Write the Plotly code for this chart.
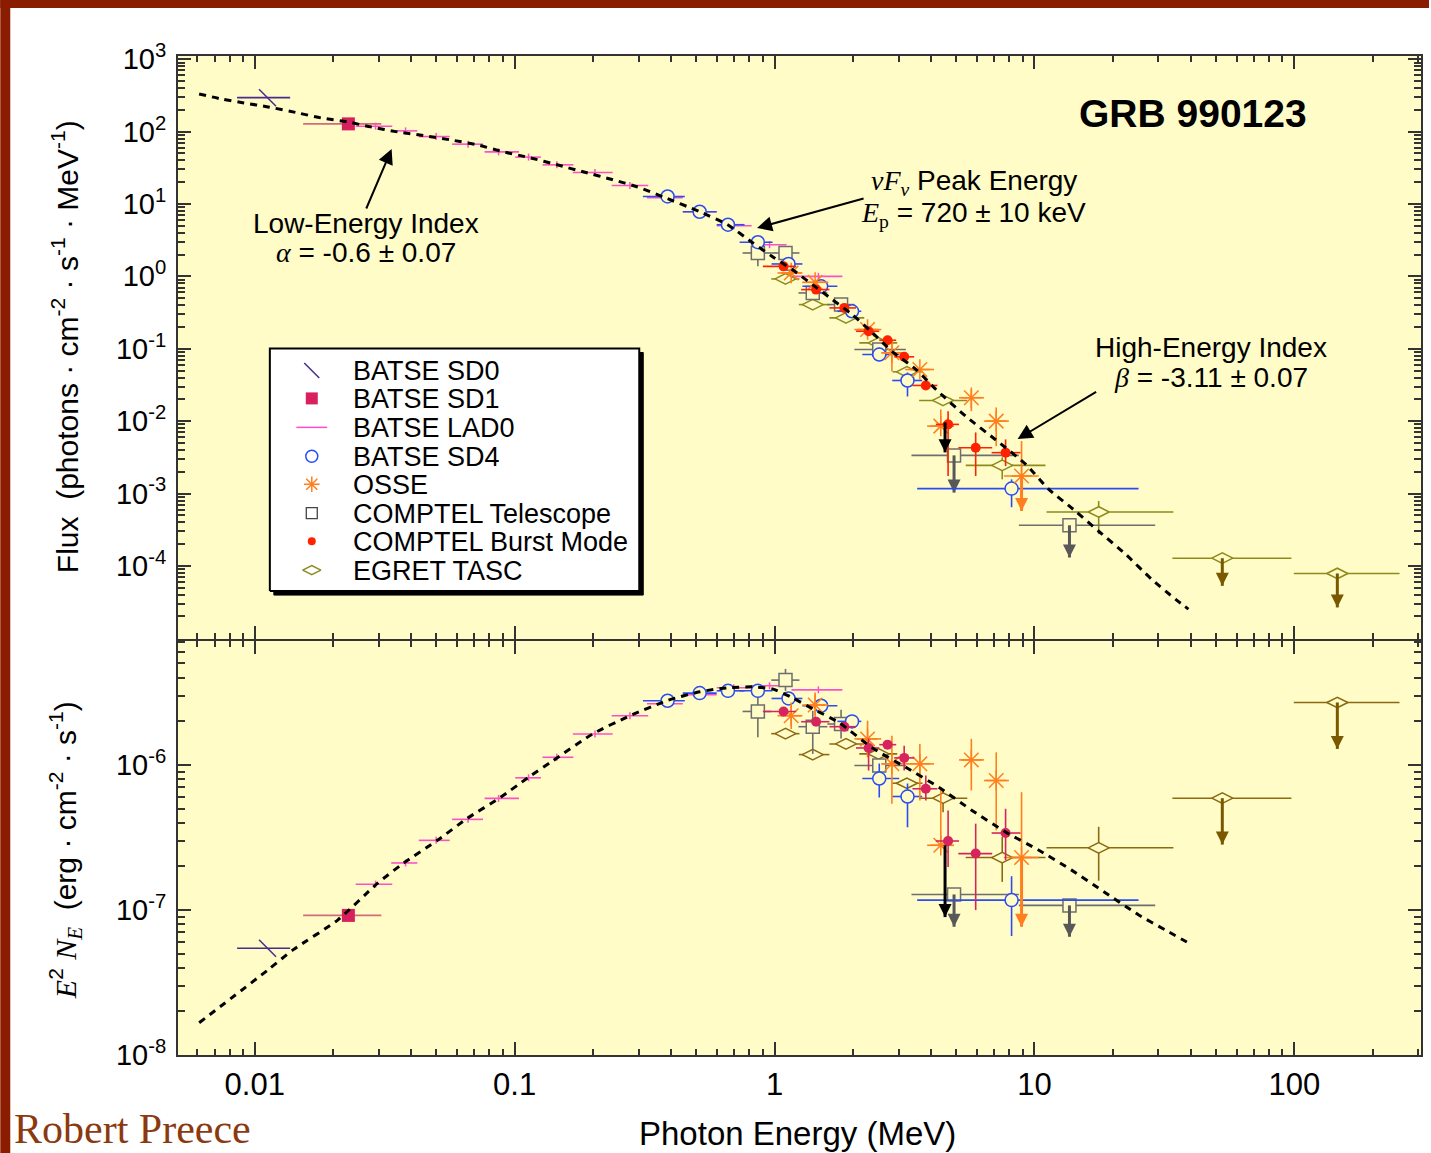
import math
import plotly.graph_objects as go

# ---------------- values ----------------
# Dashed model curve (upper panel): photon energy (MeV) / flux N_E (photons cm^-2 s^-1 MeV^-1)
MODEL_TOP_E = [0.006108, 0.00742, 0.00909, 0.01124, 0.01464, 0.01795, 0.02278, 0.02792, 0.03544,
               0.04459, 0.0566, 0.07187, 0.09044, 0.1148, 0.1457, 0.1834, 0.2389, 0.2954, 0.3717,
               0.5155, 0.66, 0.8233, 0.9825, 1.1724, 1.3988, 1.6696, 1.992, 2.377, 2.837, 3.507,
               4.183, 5.455, 7.302, 9.268, 11.36, 14.42, 17.67, 22.43, 28.22, 34.88, 39.13]
MODEL_TOP_N = [331, 282.5, 248.8, 219.1, 181.1, 154.5, 136.1, 116.1, 99.05, 88.0, 76.8, 65.56,
               52.48, 43.37, 34.73, 27.8, 21.6, 17.3, 12.57, 7.805, 5.166, 2.916, 1.869, 1.237,
               0.7685, 0.4772, 0.2962, 0.1673, 0.0915, 0.0516, 0.02736, 0.0116, 5.085e-3,
               2.528e-3, 1.143e-3, 5.68e-4, 3.01e-4, 1.45e-4, 6.56e-5, 3.47e-5, 2.53e-5]
# Dashed model curve (lower panel): E^2 N_E (erg cm^-2 s^-1)
MODEL_BOT_E = [0.00611, 0.01124, 0.01402, 0.02085, 0.02971, 0.03737, 0.05047, 0.06577, 0.0881,
               0.1128, 0.1406, 0.2003, 0.2778, 0.3853, 0.5154, 0.66, 0.823, 0.982, 1.172, 1.399,
               1.775, 2.376, 3.21, 4.30, 5.75, 7.77, 10.4, 13.9, 18.8, 25.2, 31.9, 39.8]
MODEL_BOT_F = [1.667e-8, 3.855e-8, 5.30e-8, 8.51e-8, 1.53e-7, 2.10e-7, 3.02e-7, 4.28e-7, 5.96e-7,
               8.18e-7, 1.07e-6, 1.64e-6, 2.18e-6, 2.77e-6, 3.19e-6, 3.40e-6, 3.45e-6, 3.34e-6,
               2.90e-6, 2.44e-6, 1.95e-6, 1.31e-6, 9.58e-7, 6.98e-7, 4.85e-7, 3.43e-7, 2.58e-7,
               1.88e-7, 1.31e-7, 9.22e-8, 7.27e-8, 5.82e-8]

# BATSE SD0
SD0_E, SD0_ELO, SD0_EHI = [0.0112], [0.00855], [0.01368]
SD0_N, SD0_F = [294], [5.44e-8]
# BATSE SD1
SD1_E, SD1_ELO, SD1_EHI = [0.02292], [0.01535], [0.03069]
SD1_N, SD1_F = [127.7], [9.16e-8]
# BATSE LAD0
LAD0_E = [0.02917, 0.03804, 0.04989, 0.06617, 0.08673, 0.1131, 0.1453, 0.2038, 0.2777, 0.3784,
          0.5155, 0.6962, 0.9568, 1.475]
LAD0_ELO = [0.02445, 0.03351, 0.04277, 0.05745, 0.07663, 0.1005, 0.128, 0.1674, 0.2362, 0.3228,
            0.4436, 0.599, 0.816, 1.162]
LAD0_EHI = [0.03381, 0.04221, 0.05626, 0.07556, 0.1039, 0.1262, 0.1683, 0.2383, 0.3265, 0.4436,
            0.5989, 0.8164, 1.112, 1.824]
LAD0_N = [118.7, 102.3, 85.3, 67.0, 52.5, 44.4, 34.7, 27.2, 18.0, 12.18, 7.80, 5.00, 2.736, 1.0]
LAD0_F = [1.504e-7, 2.107e-7, 3.017e-7, 4.21e-7, 5.87e-7, 8.14e-7, 1.128e-6, 1.633e-6, 2.182e-6,
          2.637e-6, 3.042e-6, 3.40e-6, 3.51e-6, 3.29e-6]
# BATSE SD4
SD4_E = [0.3876, 0.5151, 0.6618, 0.8626, 1.132, 1.511, 1.987, 2.529, 3.248, 8.168]
SD4_ELO = [0.3115, 0.4436, 0.5989, 0.7338, 0.9739, 1.28, 1.745, 2.176, 2.837, 3.539]
SD4_EHI = [0.4516, 0.5989, 0.767, 0.9825, 1.28, 1.745, 2.157, 3.018, 3.699, 25.16]
SD4_N = [12.69, 7.805, 5.166, 2.963, 1.483, 0.728, 0.329, 0.0832, 0.0364, 1.168e-3]
SD4_NLO = [None, None, None, None, None, None, None, 0.0672, 0.0219, 6.46e-4]
SD4_NHI = [None, None, None, None, None, None, None, 0.1039, 0.047, 1.57e-3]
SD4_F = [2.767e-6, 3.125e-6, 3.24e-6, 3.24e-6, 2.869e-6, 2.556e-6, 1.994e-6, 8.05e-7, 6.05e-7, 1.168e-7]
SD4_FLO = [None, None, None, None, None, None, None, 5.96e-7, 3.71e-7, 6.6e-8]
SD4_FHI = [None, None, None, None, None, None, None, 1.021e-6, 7.44e-7, 1.707e-7]
# OSSE
OSSE_E = [1.159, 1.433, 2.28, 2.829, 3.624, 4.362, 5.718, 7.129, 8.923]
OSSE_ELO = [1.027, 1.277, 2.028, 2.574, 3.183, 3.865, 5.128, 6.395, 7.63]
OSSE_EHI = [1.28, 1.611, 2.574, 3.154, 4.111, 4.906, 6.395, 7.975, 10.39]
OSSE_N = [1.114, 0.8264, 0.184, 0.0878, 0.0516, 8.53e-3, 0.02103, 0.01, 1.743e-3]
OSSE_NLO = [None, None, None, 0.049, None, None, 0.01374, 4.52e-3, None]
OSSE_NHI = [None, None, None, 0.1269, None, 0.0145, 0.0274, 0.01545, 5.3e-3]
OSSE_NUL = [None, None, None, None, None, None, None, None, 5.74e-4]
OSSE_F = [2.182e-6, 2.584e-6, 1.51e-6, 1.016e-6, 1.016e-6, 2.789e-7, 1.082e-6, 7.8e-7, 2.295e-7]
OSSE_FLO = [1.768e-6, 2.071e-6, 1.128e-6, 5.4e-7, 5.68e-7, None, 6.66e-7, 3.54e-7, None]
OSSE_FHI = [2.692e-6, 3.155e-6, 2.016e-6, 1.59e-6, 1.394e-6, 7.01e-7, 1.51e-6, 1.22e-6, 6.48e-7]
OSSE_FUL = [None, None, None, None, None, None, None, None, 7.65e-8]
# COMPTEL Telescope
CTEL_E = [0.8626, 1.102, 1.403, 1.803, 2.529, 4.906, 13.64]
CTEL_ELO = [0.7536, 0.9713, 1.236, 1.597, 2.028, 3.365, 8.712]
CTEL_EHI = [0.9713, 1.247, 1.597, 2.028, 3.202, 8.712, 29.16]
CTEL_N = [2.103, 2.103, 0.590, 0.407, 0.0975, 3.363e-3, 3.64e-4]
CTEL_NLO = [1.374, None, None, None, None, None, None]
CTEL_NHI = [2.593, None, None, None, None, None, None]
CTEL_NUL = [None, None, None, None, None, 1.029e-3, 1.306e-4]
CTEL_F = [2.335e-6, 3.84e-6, 1.833e-6, 1.913e-6, 9.89e-7, 1.278e-7, 1.074e-7]
CTEL_FLO = [1.548e-6, 3.24e-6, 1.19e-6, 1.517e-6, None, None, None]
CTEL_FHI = [2.995e-6, 4.59e-6, 2.36e-6, 2.397e-6, None, None, None]
CTEL_FUL = [None, None, None, None, None, 7.65e-8, 6.53e-8]
# COMPTEL Burst Mode
CBM_E = [1.083, 1.445, 1.856, 2.301, 2.722, 3.154, 3.82, 4.654, 5.943, 7.746]
CBM_ELO = [0.9018, 1.266, 1.626, 2.058, 2.529, 2.887, 3.394, 4.174, 5.096, 6.845]
CBM_EHI = [1.2113, 1.626, 2.058, 2.529, 2.939, 3.445, 4.233, 5.128, 6.88, 8.845]
CBM_N = [1.374, 0.6557, 0.3665, 0.1743, 0.131, 0.0773, 0.0311, 9.01e-3, 4.296e-3, 3.666e-3]
CBM_NLO = [None, None, None, None, None, None, None, 1.743e-3, 1.743e-3, 2.394e-3]
CBM_NHI = [None, None, None, None, None, None, None, 0.01374, 6.98e-3, 5.59e-3]
CBM_F = [2.335e-6, 1.984e-6, 1.833e-6, 1.308e-6, 1.378e-6, 1.117e-6, 6.84e-7, 2.985e-7, 2.445e-7, 3.388e-7]
CBM_FLO = [None, None, None, 9.14e-7, None, 9.14e-7, 5.68e-7, 1.978e-7, 9.97e-8, 2.2e-7]
CBM_FHI = [None, None, None, 1.517e-6, None, 1.357e-6, 8.44e-7, 4.85e-7, 3.93e-7, 4.98e-7]
# black upper-limit arrow near 4.5 MeV
BLK_E = [4.53]
BLK_N, BLK_NUL = [9.6e-3], [3.70e-3]
BLK_F, BLK_FUL = [2.79e-7], [8.92e-8]
# EGRET TASC
EGR_E = [1.102, 1.403, 1.884, 2.513, 3.23, 4.451, 7.518, 17.67, 52.84, 146.4]
EGR_ELO = [0.9713, 1.24, 1.626, 2.119, 2.844, 3.601, 5.44, 11.13, 33.96, 99.56]
EGR_EHI = [1.247, 1.626, 2.214, 2.965, 3.709, 5.518, 11.03, 34.26, 97.48, 254]
EGR_N = [0.9207, 0.407, 0.2668, 0.1206, 0.048, 0.0193, 2.449e-3, 5.56e-4, 1.277e-4, 7.86e-5]
EGR_NLO = [None, None, None, None, None, None, 1.57e-3, 2.74e-4, None, None]
EGR_NHI = [None, None, None, None, None, None, 3.157e-3, 7.88e-4, None, None]
EGR_NUL = [None, None, None, None, None, None, None, None, 5.3e-5, 2.67e-5]
EGR_F = [1.641e-6, 1.177e-6, 1.394e-6, 1.19e-6, 7.47e-7, 5.89e-7, 2.295e-7, 2.68e-7, 5.89e-7, 2.692e-6]
EGR_FLO = [None, None, None, None, None, 4.72e-7, 1.56e-7, 1.59e-7, None, None]
EGR_FHI = [None, None, None, None, None, 6.66e-7, 3.18e-7, 3.74e-7, None, None]
EGR_FUL = [None, None, None, None, None, None, None, None, 2.82e-7, 1.288e-6]

LEGEND_LABELS = ["BATSE SD0", "BATSE SD1", "BATSE LAD0", "BATSE SD4", "OSSE",
                 "COMPTEL Telescope", "COMPTEL Burst Mode", "EGRET TASC"]
X_TICKS = [0.01, 0.1, 1, 10, 100]
X_TICKTEXT = ["0.01", "0.1", "1", "10", "100"]
TOP_EXP = [3, 2, 1, 0, -1, -2, -3, -4]
BOT_EXP = [-6, -7, -8]

# ---------------- styling ----------------
W, H = 1431, 1153
L, R, T, B = 178, 1423, 56, 1055
SPLIT = 640
BG = "#FFFCC8"
AX = "#333333"
SANS = "Liberation Sans, Arial, Helvetica, sans-serif"
SERIF = "Liberation Serif, Times New Roman, serif"
C_SD0 = "#4A2C8C"
C_SD1 = "#D8205E"
C_SD1BAR = "#D46A7A"
C_LAD = "#FF4FC8"
C_SD4 = "#2B4CF0"
C_OSSE = "#FF7F1E"
C_CTEL = "#6E6E6E"
C_CTEL_AR = "#585858"
C_CBM_T = "#FF2200"
C_CBM_B = "#D6245E"
C_EGR_T = "#8E8A1C"
C_EGR_B = "#8A6A12"
C_EGR_AR = "#7A5800"


def px(x):
    return (x - L) / (R - L)


def py(y):
    return (B - y) / (B - T)


def errs(v, lo, hi):
    n = len(v)
    lo = lo or [None] * n
    hi = hi or [None] * n
    plus = [0 if h is None else h - a for a, h in zip(v, hi)]
    minus = [0 if l is None else a - l for a, l in zip(v, lo)]
    return plus, minus


traces = []


def series(E, Elo, Ehi, Y, Ylo, Yhi, xa, ya, color, symbol, size, fill=None,
           bar=None, lw=1.6, mlw=1.5):
    xp, xm = errs(E, Elo, Ehi)
    yp, ym = errs(Y, Ylo, Yhi)
    bc = bar or color
    traces.append(go.Scatter(
        x=E, y=Y, mode="markers", xaxis=xa, yaxis=ya, showlegend=False, hoverinfo="skip",
        marker=dict(symbol=symbol, size=size, color=fill or color,
                    line=dict(color=color, width=mlw)),
        error_x=dict(type="data", symmetric=False, array=xp, arrayminus=xm,
                     color=bc, thickness=lw, width=0),
        error_y=dict(type="data", symmetric=False, array=yp, arrayminus=ym,
                     color=bc, thickness=lw, width=0)))


def arrows(E, Y, UL, xa, ya, color, lw=3, size=13):
    xs, ys, hx, hy = [], [], [], []
    for e, y, u in zip(E, Y, UL):
        if u is None:
            continue
        xs += [e, e, None]
        ys += [y, u, None]
        hx.append(e)
        hy.append(u)
    traces.append(go.Scatter(x=xs, y=ys, mode="lines", xaxis=xa, yaxis=ya, showlegend=False,
                             hoverinfo="skip", line=dict(color=color, width=lw)))
    traces.append(go.Scatter(x=hx, y=hy, mode="markers", xaxis=xa, yaxis=ya, showlegend=False,
                             hoverinfo="skip",
                             marker=dict(symbol="arrow-down", size=size, color=color,
                                         line=dict(width=0))))


for xa, ya, top in (("x", "y", True), ("x2", "y2", False)):
    Y = (lambda a, b: a if top else b)
    series(SD0_E, SD0_ELO, SD0_EHI, Y(SD0_N, SD0_F), None, None, xa, ya, C_SD0, "line-nw", 17)
    series(SD1_E, SD1_ELO, SD1_EHI, Y(SD1_N, SD1_F), None, None, xa, ya, C_SD1, "square", 13,
           bar=C_SD1BAR, mlw=0)
    series(LAD0_E, LAD0_ELO, LAD0_EHI, Y(LAD0_N, LAD0_F), None, None, xa, ya, C_LAD, "line-ns", 5)
    series(EGR_E, EGR_ELO, EGR_EHI, Y(EGR_N, EGR_F), Y(EGR_NLO, EGR_FLO), Y(EGR_NHI, EGR_FHI),
           xa, ya, Y(C_EGR_T, C_EGR_B), "diamond-wide", 15, fill=BG)
    arrows(EGR_E, Y(EGR_N, EGR_F), Y(EGR_NUL, EGR_FUL), xa, ya, C_EGR_AR)
    series(CTEL_E, CTEL_ELO, CTEL_EHI, Y(CTEL_N, CTEL_F), Y(CTEL_NLO, CTEL_FLO),
           Y(CTEL_NHI, CTEL_FHI), xa, ya, C_CTEL, "square", 13, fill=BG)
    arrows(CTEL_E, Y(CTEL_N, CTEL_F), Y(CTEL_NUL, CTEL_FUL), xa, ya, C_CTEL_AR)
    series(SD4_E, SD4_ELO, SD4_EHI, Y(SD4_N, SD4_F), Y(SD4_NLO, SD4_FLO), Y(SD4_NHI, SD4_FHI),
           xa, ya, C_SD4, "circle", 13, fill=BG)
    series(OSSE_E, OSSE_ELO, OSSE_EHI, Y(OSSE_N, OSSE_F), Y(OSSE_NLO, OSSE_FLO),
           Y(OSSE_NHI, OSSE_FHI), xa, ya, C_OSSE, "asterisk-open", 17)
    arrows(OSSE_E, Y(OSSE_N, OSSE_F), Y(OSSE_NUL, OSSE_FUL), xa, ya, C_OSSE)
    series(CBM_E, CBM_ELO, CBM_EHI, Y(CBM_N, CBM_F), Y(CBM_NLO, CBM_FLO), Y(CBM_NHI, CBM_FHI),
           xa, ya, Y(C_CBM_T, C_CBM_B), "circle", 10, mlw=0)
    arrows(BLK_E, Y(BLK_N, BLK_F), Y(BLK_NUL, BLK_FUL), xa, ya, "black")
    traces.append(go.Scatter(
        x=Y(MODEL_TOP_E, MODEL_BOT_E), y=Y(MODEL_TOP_N, MODEL_BOT_F), mode="lines",
        xaxis=xa, yaxis=ya, showlegend=False, hoverinfo="skip",
        line=dict(color="black", width=3, dash="7px,6px", shape="spline", smoothing=0.6)))

# ---------------- hand-drawn legend box (overlay axes 0..1 over upper panel) ----------------
def lx(xp_):
    return (xp_ - L) / (R - L)


def ly(yp_):
    return (SPLIT - yp_) / (SPLIT - T)


bx0, bx1, by0, by1 = lx(270), lx(640), ly(592), ly(349)
sx, sy = 4 / (R - L), 4 / (SPLIT - T)
traces.append(go.Scatter(x=[bx0 + sx, bx1 + sx, bx1 + sx, bx0 + sx, bx0 + sx],
                         y=[by0 - sy, by0 - sy, by1 - sy, by1 - sy, by0 - sy],
                         fill="toself", fillcolor="black", mode="lines",
                         line=dict(color="black", width=1), xaxis="x3", yaxis="y3",
                         showlegend=False, hoverinfo="skip"))
traces.append(go.Scatter(x=[bx0, bx1, bx1, bx0, bx0], y=[by0, by0, by1, by1, by0],
                         fill="toself", fillcolor="white", mode="lines",
                         line=dict(color="black", width=2), xaxis="x3", yaxis="y3",
                         showlegend=False, hoverinfo="skip"))
ROWS = [371, 399, 428, 457, 485, 514, 542, 571]
LEG_MARK = [("line-nw", 15, C_SD0, C_SD0, 1.5), ("square", 12, C_SD1, C_SD1, 0),
            ("line-ew", 22, C_LAD, C_LAD, 1.5), ("circle-open", 12, C_SD4, C_SD4, 1.5),
            ("asterisk-open", 13, C_OSSE, C_OSSE, 1.5), ("square", 11, "white", "#444", 1.3),
            ("circle", 8, C_CBM_T, C_CBM_T, 0), ("diamond-wide", 13, "white", C_EGR_T, 1.5)]
for r, (sym, sz, fc, lc, lw_) in zip(ROWS, LEG_MARK):
    traces.append(go.Scatter(x=[lx(312)], y=[ly(r)], mode="markers", xaxis="x3", yaxis="y3",
                             showlegend=False, hoverinfo="skip",
                             marker=dict(symbol=sym, size=sz, color=fc,
                                         line=dict(color=lc, width=lw_))))

fig = go.Figure(traces)

# ---------------- annotations ----------------
ann = []


def text(x, y, s, size=28, anchor="center", family=SANS, color="black", angle=0, yanchor="middle"):
    ann.append(dict(x=px(x), y=py(y), xref="paper", yref="paper", text=s, showarrow=False,
                    xanchor=anchor, yanchor=yanchor, textangle=angle, borderpad=0,
                    font=dict(family=family, size=size, color=color)))


def arrow(hx, hy, tx, ty):
    ann.append(dict(x=px(hx), y=py(hy), xref="paper", yref="paper", ax=tx - hx, ay=ty - hy,
                    axref="pixel", ayref="pixel", text="", showarrow=True, arrowhead=2,
                    arrowsize=1.5, arrowwidth=2, arrowcolor="black", standoff=0))


SER = '<span style="font-family:Liberation Serif,serif">'


def si(s):
    return SER + '<i>' + s + '</i></span>'


for r, lab in zip(ROWS, LEGEND_LABELS):
    text(352, r, lab, size=27, anchor="left")

text(1195, 113, "<b>GRB 990123</b>", size=39)
text(366, 223, "Low-Energy Index", size=28)
text(366, 252, si("α") + " = -0.6 ± 0.07", size=28)
arrow(392, 149, 366, 210)
text(975, 182, si("ν") + si("F") + SER + '<sub><i>ν</i></sub></span> Peak Energy', size=28)
text(975, 215, si("E") + SER + '<sub>p</sub></span> = 720 ± 10 keV', size=28)
arrow(758, 228, 866, 198)
text(1213, 348, "High-Energy Index", size=28)
text(1213, 377, si("β") + " = -3.11 ± 0.07", size=28)
arrow(1019, 439, 1099, 391)

text(65, 347, "Flux  (photons · cm<sup>-2</sup> · s<sup>-1</sup> · MeV<sup>-1</sup>)", size=30, angle=-90)
text(65, 850, si("E") + "<sup>2</sup> " + si("N") + SER + '<sub><i>E</i></sub></span>  (erg · cm<sup>-2</sup> · s<sup>-1</sup>)', size=30, angle=-90)
text(798, 1133, "Photon Energy (MeV)", size=33)
text(13, 1153, "Robert Preece", size=42, anchor="left", family=SERIF, color="#8B3A10",
     yanchor="bottom")

RED = "#8A1C00"
shapes = [
    dict(type="rect", xref="paper", yref="paper", x0=px(0), x1=px(W), y0=py(8), y1=py(0),
         fillcolor=RED, line=dict(width=0), layer="below"),
    dict(type="rect", xref="paper", yref="paper", x0=px(0), x1=px(10), y0=py(H), y1=py(0),
         fillcolor=RED, line=dict(width=0), layer="below"),
]

minor_x = [k * 10.0 ** d for d in range(-3, 3) for k in range(2, 10)]
minor_top = [k * 10.0 ** d for d in range(-6, 4) for k in range(2, 10)]
minor_bot = [k * 10.0 ** d for d in range(-9, -4) for k in range(2, 10)]

common = dict(showline=True, linecolor=AX, linewidth=2, mirror="ticks", ticks="inside",
              tickcolor=AX, tickwidth=2, ticklen=13, showgrid=False, zeroline=False,
              tickfont=dict(family=SANS, size=29, color="black"))
xr = [-2.2954, 2.4875]

fig.update_layout(
    width=W, height=H, margin=dict(l=L, r=W - R, t=T, b=H - B),
    paper_bgcolor="white", plot_bgcolor=BG, showlegend=False,
    xaxis=dict(type="log", range=xr, domain=[0, 1], anchor="y", tickmode="array",
               tickvals=X_TICKS, showticklabels=False,
               minor=dict(ticks="inside", ticklen=6, tickwidth=1.5, tickcolor=AX,
                          tickmode="array", tickvals=minor_x), **common),
    yaxis=dict(type="log", range=[-5.01, 3.044], domain=[py(SPLIT - 1), 1], anchor="x",
               tickmode="array", tickvals=[10.0 ** e for e in TOP_EXP],
               ticktext=["10<sup>%d</sup>" % e for e in TOP_EXP], ticklabelstandoff=4,
               minor=dict(ticks="inside", ticklen=7, tickwidth=1.5, tickcolor=AX,
                          tickmode="array", tickvals=minor_top), **common),
    xaxis2=dict(type="log", range=xr, domain=[0, 1], anchor="y2", matches="x",
                tickmode="array", tickvals=X_TICKS, ticktext=X_TICKTEXT, ticklabelstandoff=1,
                minor=dict(ticks="inside", ticklen=6, tickwidth=1.5, tickcolor=AX,
                           tickmode="array", tickvals=minor_x),
                **{**common, "tickfont": dict(family=SANS, size=31, color="black")}),
    yaxis2=dict(type="log", range=[-8.0005, -5.146], domain=[0, py(SPLIT + 1)], anchor="x2",
                tickmode="array", tickvals=[10.0 ** e for e in BOT_EXP],
                ticktext=["10<sup>%d</sup>" % e for e in BOT_EXP], ticklabelstandoff=4,
                minor=dict(ticks="inside", ticklen=7, tickwidth=1.5, tickcolor=AX,
                           tickmode="array", tickvals=minor_bot), **common),
    xaxis3=dict(overlaying="x", range=[0, 1], visible=False, anchor="y3"),
    yaxis3=dict(overlaying="y", range=[0, 1], visible=False, anchor="x3"),
    annotations=ann, shapes=shapes,
)

fig.write_html("out.html", config={"displayModeBar": False},
               post_script="document.body.style.margin='0px';")
